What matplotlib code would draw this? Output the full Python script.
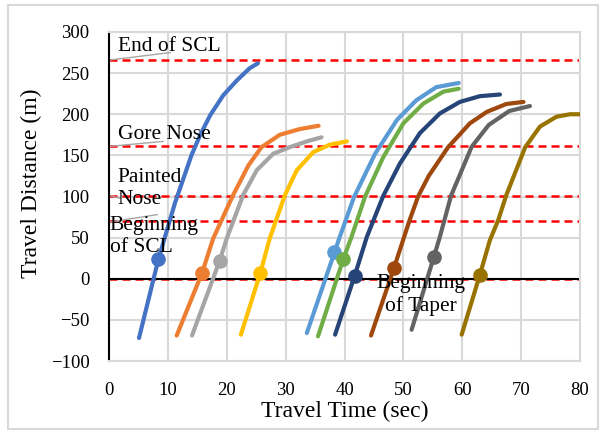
import matplotlib
matplotlib.use("Agg")
import matplotlib.pyplot as plt
from matplotlib.patches import Rectangle

plt.rcParams['font.family'] = ['Liberation Serif', 'DejaVu Serif']

# travel time (sec) / travel distance (m) for each vehicle trajectory
t1 = [5.1, 8.4, 11.2, 14.0, 15.5, 17.2, 19.4, 21.7, 23.9, 25.3]
d1 = [-72, 24, 92, 150, 175, 199, 223, 241, 256, 262]
t2 = [11.5, 15.8, 17.7, 21.1, 23.7, 25.9, 29.0, 32.4, 35.6]
d2 = [-69, 7, 49, 102, 138, 160, 175, 182, 186]
t3 = [14.1, 18.8, 20.0, 22.8, 25.1, 27.9, 30.7, 33.6, 36.1]
d3 = [-69, 22, 49, 102, 132, 152, 160, 167, 172]
t4 = [22.4, 25.7, 27.3, 29.9, 31.9, 34.7, 37.5, 40.4]
d4 = [-68, 7, 49, 102, 132, 154, 163, 167]
t5 = [33.6, 38.3, 39.2, 41.6, 45.2, 48.9, 52.2, 55.6, 59.4]
d5 = [-66, 32, 51, 99, 152, 193, 217, 233, 238]
t6 = [35.5, 39.8, 41.2, 43.5, 46.6, 50.0, 53.4, 56.8, 59.4]
d6 = [-70, 24, 51, 100, 148, 189, 213, 227.5, 231]
t7 = [38.4, 41.7, 43.8, 46.6, 49.4, 52.8, 56.2, 59.6, 63.0, 66.4]
d7 = [-68, 3, 51, 101, 140, 177, 201, 215, 222, 224]
t8 = [44.5, 48.4, 51.0, 52.5, 54.3, 57.6, 61.3, 64.2, 67.5, 70.4]
d8 = [-69, 13, 70, 100, 125, 160, 189, 203, 212.5, 215]
t9 = [51.4, 55.2, 56.2, 58.1, 61.6, 64.5, 68.0, 71.5]
d9 = [-62, 27, 51, 101, 160.5, 187, 204, 210]
t10 = [59.9, 63.0, 64.7, 66.1, 67.5, 70.7, 73.2, 76.0, 78.3, 80.0]
d10 = [-68, 5, 47, 71, 102, 160, 185, 197, 200, 200]

# marker (beginning of taper crossing) per trajectory
mark_t = [8.4, 15.8, 18.8, 25.7, 38.3, 39.8, 41.7, 48.4, 55.2, 63.0]
mark_d = [24, 7, 22, 7, 32, 24, 3, 13, 27, 5]

colors = ['#4472C4', '#ED7D31', '#A5A5A5', '#FFC000', '#5B9BD5',
          '#70AD47', '#264478', '#9E480E', '#636363', '#997300']

# reference lines
ref_y = [266, 161, 101, 70, 0]

series = [(t1, d1), (t2, d2), (t3, d3), (t4, d4), (t5, d5),
          (t6, d6), (t7, d7), (t8, d8), (t9, d9), (t10, d10)]

fig = plt.figure(figsize=(6.05, 4.32), dpi=100)
fig.patches.append(Rectangle((8 / 605, 3 / 432), 590 / 605, 424 / 432,
                             transform=fig.transFigure, fill=False,
                             edgecolor='#D9D9D9', linewidth=1.5))
ax = fig.add_axes([109 / 605, 1 - 361 / 432, 471 / 605, 329 / 432])

ax.set_xlim(0, 80)
ax.set_ylim(-100, 300)
ax.set_xticks(range(0, 81, 10))
ax.set_yticks(range(-100, 301, 50))
ax.grid(True, color='#D9D9D9', linewidth=1.5, zorder=0)
ax.set_axisbelow(True)
for s in ['top', 'right', 'bottom']:
    ax.spines[s].set_color('#D9D9D9')
    ax.spines[s].set_linewidth(1.5)
ax.spines['left'].set_color('black')
ax.spines['left'].set_linewidth(1.5)
ax.tick_params(length=0, labelsize=13.5)
ax.tick_params(axis='y', pad=14)
ax.tick_params(axis='x', pad=15)

for y in ref_y:
    ax.axhline(y, color='#FF0000', linewidth=1.8, dashes=(3.2, 2), zorder=2)
ax.axhline(0, color='black', linewidth=1.5, zorder=2.5)

for (t, d), c, mt, md in zip(series, colors, mark_t, mark_d):
    ax.plot(t, d, color=c, linewidth=3, solid_capstyle='round',
            solid_joinstyle='round', zorder=3)
    ax.plot(mt, md, 'o', color=c, markersize=9.5, zorder=4)

# annotations with leader lines
lead = '#A6A6A6'
ax.plot([0.2, 10.4], [266, 275], color=lead, lw=1, clip_on=False, zorder=2)
ax.plot([0.2, 9.2], [161, 167], color=lead, lw=1, clip_on=False, zorder=2)
ax.plot([0.2, 1.8], [101, 98], color=lead, lw=1, clip_on=False, zorder=2)
ax.plot([0.2, 8.2], [69, 78], color=lead, lw=1, clip_on=False, zorder=2)

ax.text(1.6, 282, 'End of SCL', fontsize=15.5, va='center', ha='left')
ax.text(1.5, 175, 'Gore Nose', fontsize=15.5, va='center', ha='left')
ax.text(1.5, 110, 'Painted\nNose', fontsize=15.5, va='center', ha='left',
        linespacing=1.2)
ax.text(0.1, 51, 'Beginning\nof SCL', fontsize=15.5, va='center', ha='left',
        linespacing=1.2)
ax.text(53.0, -20, 'Beginning\nof Taper', fontsize=15.5, va='center',
        ha='center', linespacing=1.2, zorder=5)

ax.set_xlabel('Travel Time (sec)', fontsize=17)
ax.set_ylabel('Travel Distance (m)', fontsize=17)
ax.xaxis.set_label_coords(0.5, -0.122)
ax.yaxis.set_label_coords(-0.143, 0.54)

fig.savefig('out.png', dpi=100)
